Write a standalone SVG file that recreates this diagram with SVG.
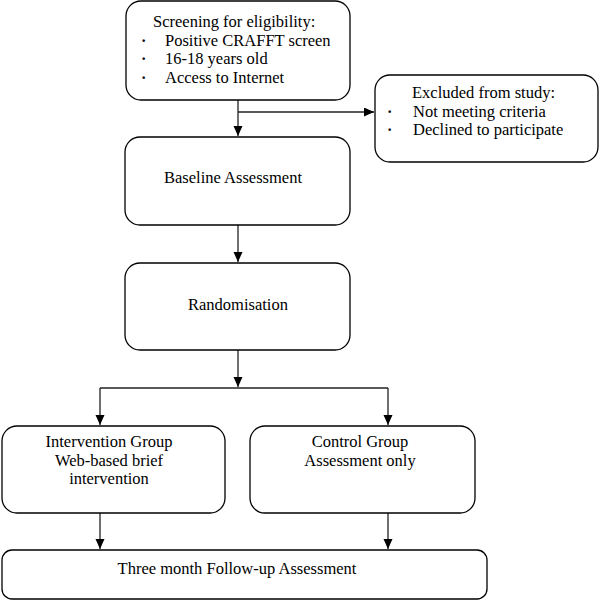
<svg xmlns="http://www.w3.org/2000/svg" width="600" height="601" viewBox="0 0 600 601">
<style>
.box{fill:#fff;stroke:#000;stroke-width:1.3}
.t{font-family:"Liberation Serif","Times New Roman",serif;font-size:16.5px;fill:#000}
.b{font-family:"Liberation Serif","Times New Roman",serif;font-size:16px;font-weight:bold;fill:#000}
.m{text-anchor:middle}
.c{fill:none;stroke:#222;stroke-width:1.3}
</style>
<defs>
<marker id="ah" markerWidth="10" markerHeight="12" refX="10" refY="4.5" orient="auto" markerUnits="userSpaceOnUse">
<path d="M0,0 L10,4.5 L0,9 Z" fill="#000"/>
</marker>
</defs>
<rect width="600" height="601" fill="#fff"/>
<g id="connectors">
<path class="c" d="M238,100 V136" marker-end="url(#ah)"/>
<path class="c" d="M238,112 H374" marker-end="url(#ah)"/>
<path class="c" d="M238,225 V262" marker-end="url(#ah)"/>
<path class="c" d="M238,350 V387" marker-end="url(#ah)"/>
<path class="c" d="M100,388 H388"/>
<path class="c" d="M100,388 V425" marker-end="url(#ah)"/>
<path class="c" d="M388,388 V425" marker-end="url(#ah)"/>
<path class="c" d="M100,513 V549" marker-end="url(#ah)"/>
<path class="c" d="M388,513 V549" marker-end="url(#ah)"/>
</g>
<g id="screening">
<rect class="box" x="126" y="1" width="224" height="99" rx="15"/>
<text class="t" x="153" y="27">Screening for eligibility:</text>
<text class="b" x="141" y="46">·</text><text class="t" x="165" y="46">Positive CRAFFT screen</text>
<text class="b" x="141" y="64">·</text><text class="t" x="165" y="64">16-18 years old</text>
<text class="b" x="141" y="83">·</text><text class="t" x="165" y="83">Access to Internet</text>
</g>
<g id="excluded">
<rect class="box" x="375" y="75" width="223" height="87" rx="15"/>
<text class="t" x="412" y="98">Excluded from study:</text>
<text class="b" x="387" y="117">·</text><text class="t" x="413" y="117">Not meeting criteria</text>
<text class="b" x="387" y="135">·</text><text class="t" x="413" y="135">Declined to participate</text>
</g>
<g id="baseline">
<rect class="box" x="125" y="137" width="225" height="88" rx="15"/>
<text class="t m" x="233" y="183">Baseline Assessment</text>
</g>
<g id="randomisation">
<rect class="box" x="125" y="263" width="225" height="87" rx="15"/>
<text class="t m" x="238" y="310">Randomisation</text>
</g>
<g id="intervention">
<rect class="box" x="2" y="426" width="223" height="87" rx="15"/>
<text class="t m" x="109" y="447">Intervention Group</text>
<text class="t m" x="109" y="466">Web-based brief</text>
<text class="t m" x="109" y="484">intervention</text>
</g>
<g id="control">
<rect class="box" x="250" y="426" width="225" height="87" rx="15"/>
<text class="t m" x="360" y="447">Control Group</text>
<text class="t m" x="360" y="466">Assessment only</text>
</g>
<g id="followup">
<rect class="box" x="2" y="550" width="485" height="49" rx="10"/>
<text class="t m" x="237" y="574">Three month Follow-up Assessment</text>
</g>
</svg>
